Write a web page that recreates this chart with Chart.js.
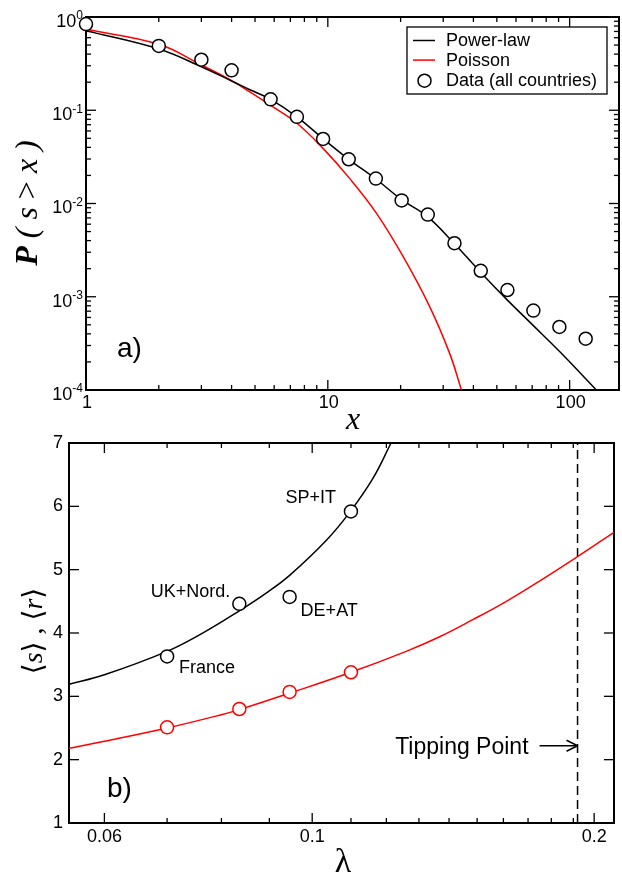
<!DOCTYPE html>
<html>
<head>
<meta charset="utf-8">
<script src="https://cdn.jsdelivr.net/npm/chart.js@4"></script>
<style>
  html, body { margin: 0; padding: 0; background: #fff; }
  #wrap { position: relative; width: 622px; height: 875px; }
  canvas { position: absolute; left: 0; }
  #dist { top: 0; }
  #lam { top: 430px; }
</style>
</head>
<body>
<div id="wrap">
  <canvas id="dist" width="622" height="430"></canvas>
  <canvas id="lam" width="622" height="445"></canvas>
</div>
<script>
// a) cumulative size distribution, all countries
const sizeX = [1, 2, 3, 4, 5.8, 7.45, 9.56, 12.2, 15.8, 20.2, 25.9, 33.4, 42.9, 55.3, 70.8, 90.7, 116.5];
const sizeP = [0.84, 0.49, 0.348, 0.268, 0.131, 0.085, 0.0492, 0.0298, 0.0185, 0.0108, 0.0076, 0.00375, 0.0019, 0.00118, 0.00071, 0.000474, 0.000355];
const powerX = [1, 2, 3, 4, 4.76, 5.8, 7.45, 9.56, 12.2, 15.8, 20.2, 25.9, 33.4, 42.9, 55.3, 70.8, 90.7, 129];
const powerP = [0.713, 0.454, 0.293, 0.206, 0.166, 0.131, 0.085, 0.0495, 0.0298, 0.0183, 0.011, 0.0072, 0.0037, 0.00182, 0.00092, 0.00049, 0.00026, 0.0001];
const poissonX = [1, 2, 3, 4, 4.76, 5.76, 7.43, 9.56, 12.3, 15.9, 20.5, 26.4, 31.9, 35.7];
const poissonP = [0.738, 0.51, 0.306, 0.208, 0.157, 0.114, 0.073, 0.039, 0.0186, 0.00785, 0.00269, 0.00078, 0.000247, 0.0001];
const xTicksA = [1, 10, 100];
const xTickTextA = ["1", "10", "100"];
const yTicksA = [1, 0.1, 0.01, 0.001, 0.0001];
const yExpA = ["0", "-1", "-2", "-3", "-4"];

// b) mean cascade sizes against lambda
const regions = ["France", "UK+Nord.", "DE+AT", "SP+IT"];
const regionLambda = [0.07, 0.0836, 0.0946, 0.11];
const meanS = [3.63, 4.46, 4.57, 5.92];
const meanR = [2.51, 2.8, 3.07, 3.38];
const sCurveL = [0.055, 0.06, 0.07, 0.0758, 0.0836, 0.0893, 0.0946, 0.1035, 0.1096, 0.1161, 0.1214];
const sCurveY = [3.19, 3.34, 3.71, 3.97, 4.35, 4.63, 4.91, 5.46, 5.9, 6.44, 7.0];
const rCurveL = [0.055, 0.06, 0.07, 0.08, 0.0836, 0.0946, 0.11, 0.126, 0.1368, 0.1484, 0.1612, 0.1749, 0.1922, 0.21];
const rCurveY = [2.18, 2.29, 2.5, 2.71, 2.79, 3.05, 3.38, 3.71, 3.94, 4.21, 4.5, 4.82, 5.21, 5.59];
const tippingLambda = 0.192;
const xTicksB = [0.06, 0.1, 0.2];
const xTickTextB = ["0.06", "0.1", "0.2"];
const xMinorB = [0.07, 0.08, 0.09, 0.11, 0.12, 0.13, 0.14, 0.15, 0.16, 0.17, 0.18, 0.19];
const yTicksB = [1, 2, 3, 4, 5, 6, 7];

const INK = "#000";
const RED = "#ff0000";
const SANS = '"Liberation Sans", Arial, sans-serif';
const SERIF = '"Liberation Serif", "Times New Roman", "DejaVu Serif", serif';

function pts(xs, ys) {
  return xs.map((x, i) => ({ x: x, y: ys[i] }));
}

function seg(ctx, x1, y1, x2, y2) {
  ctx.beginPath();
  ctx.moveTo(x1, y1);
  ctx.lineTo(x2, y2);
  ctx.stroke();
}

// draws a row of differently styled text pieces on one baseline
function runs(ctx, parts, x, y, align) {
  let w = 0;
  parts.forEach(p => { ctx.font = p.font; w += ctx.measureText(p.t).width; });
  let cx = align === "center" ? x - w / 2 : align === "right" ? x - w : x;
  ctx.textAlign = "left";
  parts.forEach(p => {
    ctx.font = p.font;
    ctx.fillText(p.t, cx, y);
    cx += ctx.measureText(p.t).width;
  });
}

// inward ticks on all four sides plus the frame
function ticksAndFrame(chart, xMajor, xMinor, yMajor, yMinor) {
  const { ctx, chartArea: a, scales: { x, y } } = chart;
  ctx.save();
  ctx.strokeStyle = INK;
  ctx.lineWidth = 1.3;
  const doX = (vals, len) => vals.forEach(v => {
    const p = x.getPixelForValue(v);
    seg(ctx, p, a.bottom, p, a.bottom - len);
    seg(ctx, p, a.top, p, a.top + len);
  });
  const doY = (vals, len) => vals.forEach(v => {
    const p = y.getPixelForValue(v);
    seg(ctx, a.left, p, a.left + len, p);
    seg(ctx, a.right, p, a.right - len, p);
  });
  doX(xMajor, 10); doX(xMinor, 5);
  doY(yMajor, 10); doY(yMinor, 5);
  ctx.lineWidth = 2;
  ctx.strokeRect(a.left, a.top, a.width, a.height);
  ctx.restore();
}

const xMinorA = [2, 3, 4, 5, 6, 7, 8, 9, 20, 30, 40, 50, 60, 70, 80, 90];
const yMinorA = [];
[1e-4, 1e-3, 1e-2, 1e-1].forEach(d => { for (let k = 2; k <= 9; k++) yMinorA.push(d * k); });

const distDecor = {
  id: "distDecor",
  beforeDatasetsDraw(chart) {
    ticksAndFrame(chart, xTicksA, xMinorA, yTicksA, yMinorA);
  },
  afterDraw(chart) {
    const { ctx, chartArea: a, scales: { x, y } } = chart;
    ctx.save();
    ctx.fillStyle = INK;
    ctx.textBaseline = "middle";

    // y tick labels as powers of ten
    yTicksA.forEach((v, i) => {
      const t = y.getPixelForValue(v);
      ctx.font = "12px " + SANS;
      const we = ctx.measureText(yExpA[i]).width;
      ctx.font = "18px " + SANS;
      const wb = ctx.measureText("10").width;
      const right = a.left - 3;
      ctx.textAlign = "left";
      ctx.fillText("10", right - we - wb, t + 5);
      ctx.font = "12px " + SANS;
      ctx.fillText(yExpA[i], right - we, t - 1);
    });

    ctx.font = "18px " + SANS;
    ctx.textAlign = "center";
    xTicksA.forEach((v, i) => ctx.fillText(xTickTextA[i], x.getPixelForValue(v) + 1, a.bottom + 13));

    // axis titles
    ctx.textBaseline = "alphabetic";
    ctx.font = "italic 32px " + SERIF;
    ctx.textAlign = "center";
    ctx.fillText("x", 353, 429);

    ctx.save();
    ctx.translate(37, 203);
    ctx.rotate(-Math.PI / 2);
    runs(ctx, [
      { t: "P", font: "italic bold 32px " + SERIF },
      { t: " ( ", font: "italic 32px " + SERIF },
      { t: "s", font: "italic 32px " + SERIF },
      { t: " > ", font: "32px " + SERIF },
      { t: "x", font: "italic 32px " + SERIF },
      { t: " )", font: "italic 32px " + SERIF }
    ], 0, 0, "center");
    ctx.restore();

    ctx.font = "28px " + SANS;
    ctx.textAlign = "left";
    ctx.fillText("a)", 117, 357);

    // legend box
    const bx = a.right - 212, by = a.top + 10, bw = 200, bh = 67;
    ctx.fillStyle = "#fff";
    ctx.fillRect(bx, by, bw, bh);
    ctx.strokeStyle = INK;
    ctx.lineWidth = 1.3;
    ctx.strokeRect(bx, by, bw, bh);
    ctx.font = "18px " + SANS;
    ctx.textBaseline = "middle";
    chart.data.datasets.forEach((ds, i) => {
      const ry = by + 13.5 + i * 19.6;
      ctx.strokeStyle = ds.borderColor;
      ctx.lineWidth = 1.5;
      if (ds.showLine) {
        seg(ctx, bx + 6, ry, bx + 28, ry);
      } else {
        ctx.fillStyle = "#fff";
        ctx.beginPath();
        ctx.arc(bx + 17.5, ry + 1, 6.5, 0, Math.PI * 2);
        ctx.fill();
        ctx.stroke();
      }
      ctx.fillStyle = INK;
      ctx.fillText(ds.label, bx + 39, ry + 1);
    });
    ctx.restore();
  }
};

new Chart(document.getElementById("dist"), {
  type: "scatter",
  data: {
    datasets: [
      { label: "Power-law", data: pts(powerX, powerP), showLine: true, pointRadius: 0,
        borderColor: INK, borderWidth: 1.5, tension: 0.4, order: 1 },
      { label: "Poisson", data: pts(poissonX, poissonP), showLine: true, pointRadius: 0,
        borderColor: RED, borderWidth: 1.5, tension: 0.4, order: 1 },
      { label: "Data (all countries)", data: pts(sizeX, sizeP), showLine: false, pointRadius: 6.5,
        pointBorderWidth: 1.5, borderColor: INK, backgroundColor: "#fff", clip: false, order: 0 }
    ]
  },
  options: {
    responsive: false,
    animation: false,
    devicePixelRatio: 1,
    events: [],
    layout: { autoPadding: false, padding: { left: 86, top: 17, right: 3, bottom: 40 } },
    scales: {
      x: { type: "logarithmic", min: 1, max: 160, display: false },
      y: { type: "logarithmic", min: 0.0001, max: 1, display: false }
    },
    plugins: { legend: { display: false }, tooltip: { enabled: false } }
  },
  plugins: [distDecor]
});

// where each region name sits relative to its marker
const regionLabelPos = [
  { dx: 12, dy: 17, align: "left" },
  { dx: -9, dy: -7, align: "right" },
  { dx: 11, dy: 19, align: "left" },
  { dx: -15, dy: -8, align: "right" }
];

const lamDecor = {
  id: "lamDecor",
  beforeDatasetsDraw(chart) {
    ticksAndFrame(chart, xTicksB, xMinorB, yTicksB, []);
  },
  afterDraw(chart) {
    const { ctx, chartArea: a, scales: { x, y } } = chart;
    ctx.save();
    ctx.fillStyle = INK;
    ctx.strokeStyle = INK;
    ctx.textBaseline = "middle";
    ctx.font = "18px " + SANS;
    ctx.textAlign = "center";
    xTicksB.forEach((v, i) => ctx.fillText(xTickTextB[i], x.getPixelForValue(v), a.bottom + 14));
    ctx.textAlign = "right";
    yTicksB.forEach(v => ctx.fillText(String(v), a.left - 6, y.getPixelForValue(v)));

    // region names next to the <s> markers
    ctx.textBaseline = "alphabetic";
    regions.forEach((name, i) => {
      const p = regionLabelPos[i];
      ctx.textAlign = p.align;
      ctx.fillText(name, x.getPixelForValue(regionLambda[i]) + p.dx, y.getPixelForValue(meanS[i]) + p.dy);
    });

    // tipping point arrow
    const tx = x.getPixelForValue(tippingLambda);
    const ty = y.getPixelForValue(2.22);
    ctx.lineWidth = 1.5;
    seg(ctx, tx - 38, ty, tx, ty);
    seg(ctx, tx - 11, ty - 5.5, tx, ty);
    seg(ctx, tx - 11, ty + 5.5, tx, ty);
    ctx.font = "23px " + SANS;
    ctx.textAlign = "right";
    ctx.fillText("Tipping Point", tx - 49, ty + 8);

    ctx.font = "28px " + SANS;
    ctx.textAlign = "left";
    ctx.fillText("b)", 107, 367);

    // axis titles
    ctx.font = "34px " + SERIF;
    ctx.textAlign = "center";
    ctx.fillText("\u03bb", 343, 442);

    ctx.save();
    ctx.translate(42, 201);
    ctx.rotate(-Math.PI / 2);
    const br = "28px " + SERIF, it = "italic 28px " + SERIF;
    runs(ctx, [
      { t: "\u27e8", font: br }, { t: "s", font: it }, { t: "\u27e9", font: br },
      { t: " , ", font: br },
      { t: "\u27e8", font: br }, { t: "r", font: it }, { t: "\u27e9", font: br }
    ], 0, 0, "center");
    ctx.restore();
    ctx.restore();
  }
};

new Chart(document.getElementById("lam"), {
  type: "scatter",
  data: {
    datasets: [
      { label: "<s>", data: pts(regionLambda, meanS), showLine: false, pointRadius: 6.5,
        pointBorderWidth: 1.5, borderColor: INK, backgroundColor: "#fff", clip: false, order: 0 },
      { label: "<r>", data: pts(regionLambda, meanR), showLine: false, pointRadius: 6.5,
        pointBorderWidth: 1.5, borderColor: RED, backgroundColor: "#fff", clip: false, order: 0 },
      { label: "<s> fit", data: pts(sCurveL, sCurveY), showLine: true, pointRadius: 0,
        borderColor: INK, borderWidth: 1.5, tension: 0.4, order: 1 },
      { label: "<r> fit", data: pts(rCurveL, rCurveY), showLine: true, pointRadius: 0,
        borderColor: RED, borderWidth: 1.5, tension: 0.4, order: 1 },
      { label: "tipping point", data: [{ x: tippingLambda, y: 1 }, { x: tippingLambda, y: 7 }],
        showLine: true, pointRadius: 0, borderColor: INK, borderWidth: 1.5, borderDash: [9, 5], order: 1 }
    ]
  },
  options: {
    responsive: false,
    animation: false,
    devicePixelRatio: 1,
    events: [],
    layout: { autoPadding: false, padding: { left: 69, top: 13, right: 8, bottom: 52 } },
    scales: {
      x: { type: "logarithmic", min: 0.055, max: 0.21, display: false },
      y: { type: "linear", min: 1, max: 7, display: false }
    },
    plugins: { legend: { display: false }, tooltip: { enabled: false } }
  },
  plugins: [lamDecor]
});
</script>
</body>
</html>
